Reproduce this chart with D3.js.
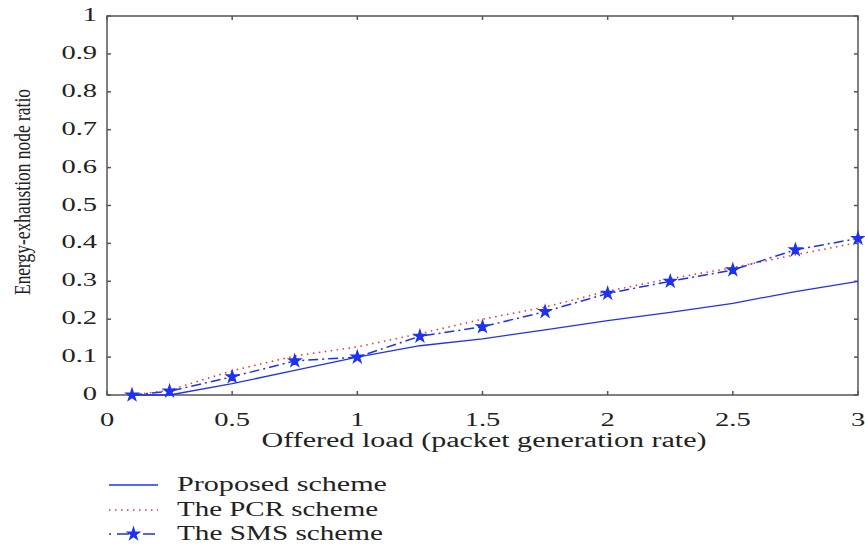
<!DOCTYPE html>
<html>
<head>
<meta charset="utf-8">
<script src="https://cdn.jsdelivr.net/npm/d3@7"></script>
<style>
  body { margin: 0; background: #fff; }
  svg text { font-family: "Liberation Serif", "Times New Roman", serif; fill: #222; }
</style>
</head>
<body>
<svg id="plot" width="865" height="549"></svg>
<script>
// offered load values (x)
const loads = [0.1, 0.25, 0.5, 0.75, 1, 1.25, 1.5, 1.75, 2, 2.25, 2.5, 2.75, 3];
// energy-exhaustion node ratio per scheme
const proposed = [0, 0, 0.03, 0.065, 0.10, 0.13, 0.148, 0.172, 0.196, 0.218, 0.242, 0.273, 0.30];
const pcr = [0, 0.013, 0.064, 0.103, 0.127, 0.162, 0.2, 0.232, 0.274, 0.307, 0.336, 0.37, 0.402];
const sms = [0, 0.01, 0.048, 0.09, 0.10, 0.155, 0.18, 0.22, 0.268, 0.30, 0.33, 0.383, 0.413];

const xTicks = [0, 0.5, 1, 1.5, 2, 2.5, 3];
const yTicks = [0, 0.1, 0.2, 0.3, 0.4, 0.5, 0.6, 0.7, 0.8, 0.9, 1];
const seriesNames = ["Proposed scheme", "The PCR scheme", "The SMS scheme"];

const blue = "#1e32f0";
const red = "#ee3030";
const frame = "#555";

const svg = d3.select("#plot");
const plotLeft = 107, plotRight = 858, plotTop = 16, plotBottom = 395;

const xScale = d3.scaleLinear().domain([0, 3]).range([plotLeft, plotRight]);
const yScale = d3.scaleLinear().domain([0, 1]).range([plotBottom, plotTop]);

// stretch text horizontally like the (resized) original figure
function stretch(sel, k) {
  sel.each(function () {
    const len = this.getComputedTextLength();
    d3.select(this).attr("textLength", len * k).attr("lengthAdjust", "spacingAndGlyphs");
  });
}

// box
svg.append("rect")
  .attr("x", plotLeft).attr("y", plotTop)
  .attr("width", plotRight - plotLeft).attr("height", plotBottom - plotTop)
  .attr("fill", "none").attr("stroke", frame).attr("stroke-width", 1.5);

// inward ticks on all sides
const tickLen = 4;
const ticks = svg.append("g").attr("stroke", frame).attr("stroke-width", 1.5);
xTicks.forEach(t => {
  ticks.append("line").attr("x1", xScale(t)).attr("x2", xScale(t)).attr("y1", plotBottom).attr("y2", plotBottom - tickLen);
  ticks.append("line").attr("x1", xScale(t)).attr("x2", xScale(t)).attr("y1", plotTop).attr("y2", plotTop + tickLen);
});
yTicks.forEach(t => {
  ticks.append("line").attr("x1", plotLeft).attr("x2", plotLeft + tickLen).attr("y1", yScale(t)).attr("y2", yScale(t));
  ticks.append("line").attr("x1", plotRight).attr("x2", plotRight - tickLen).attr("y1", yScale(t)).attr("y2", yScale(t));
});

// tick labels
svg.append("g").selectAll("text")
  .data(xTicks)
  .enter().append("text")
  .attr("x", d => xScale(d))
  .attr("y", 426)
  .attr("text-anchor", "middle")
  .style("font-size", "19px")
  .text(d => d)
  .call(stretch, 1.5);

svg.append("g").selectAll("text")
  .data(yTicks)
  .enter().append("text")
  .attr("x", 97)
  .attr("y", d => yScale(d) + 5)
  .attr("text-anchor", "end")
  .style("font-size", "19px")
  .text(d => d)
  .call(stretch, 1.5);

// axis titles
svg.append("text")
  .attr("x", 484).attr("y", 447)
  .attr("text-anchor", "middle")
  .style("font-size", "20px")
  .attr("textLength", 445).attr("lengthAdjust", "spacingAndGlyphs")
  .text("Offered load (packet generation rate)");

svg.append("text")
  .attr("transform", "translate(30,192) rotate(-90)")
  .attr("text-anchor", "middle")
  .style("font-size", "24px")
  .attr("textLength", 206).attr("lengthAdjust", "spacingAndGlyphs")
  .text("Energy-exhaustion node ratio");

// lines
const line = d3.line()
  .x((d, i) => xScale(loads[i]))
  .y(d => yScale(d));

svg.append("path")
  .datum(proposed)
  .attr("fill", "none").attr("stroke", blue).attr("stroke-width", 1.3)
  .attr("d", line);

svg.append("path")
  .datum(pcr)
  .attr("fill", "none").attr("stroke", red).attr("stroke-width", 1.5)
  .attr("stroke-dasharray", "1.5,4.5")
  .attr("d", line);

svg.append("path")
  .datum(sms)
  .attr("fill", "none").attr("stroke", blue).attr("stroke-width", 1.5)
  .attr("stroke-dasharray", "10,4,2,4")
  .attr("d", line);

const star = d3.symbol().type(d3.symbolStar).size(40);
svg.append("g").selectAll("path")
  .data(sms)
  .enter().append("path")
  .attr("transform", (d, i) => `translate(${xScale(loads[i])},${yScale(d)})`)
  .attr("d", star)
  .attr("fill", blue)
  .attr("stroke", blue)
  .attr("stroke-width", 1.5);

// legend
const legendRows = [491, 516, 540];
const legendWidths = [210, 201, 206];
const legend = svg.append("g");
seriesNames.forEach((name, i) => {
  const cy = legendRows[i] - 6;
  const l = legend.append("line")
    .attr("x1", 109).attr("x2", 158)
    .attr("y1", cy).attr("y2", cy)
    .attr("stroke", i === 1 ? red : blue)
    .attr("stroke-width", 1.5);
  if (i === 1) l.attr("stroke-dasharray", "1.5,4.5");
  if (i === 2) {
    l.attr("stroke-dasharray", "2,6,12,6");
    legend.append("path")
      .attr("transform", `translate(133.5,${cy})`)
      .attr("d", star)
      .attr("fill", blue).attr("stroke", blue).attr("stroke-width", 1.5);
  }
  legend.append("text")
    .attr("x", 177).attr("y", legendRows[i])
    .style("font-size", "21px")
    .attr("textLength", legendWidths[i]).attr("lengthAdjust", "spacingAndGlyphs")
    .text(name);
});
</script>
</body>
</html>
